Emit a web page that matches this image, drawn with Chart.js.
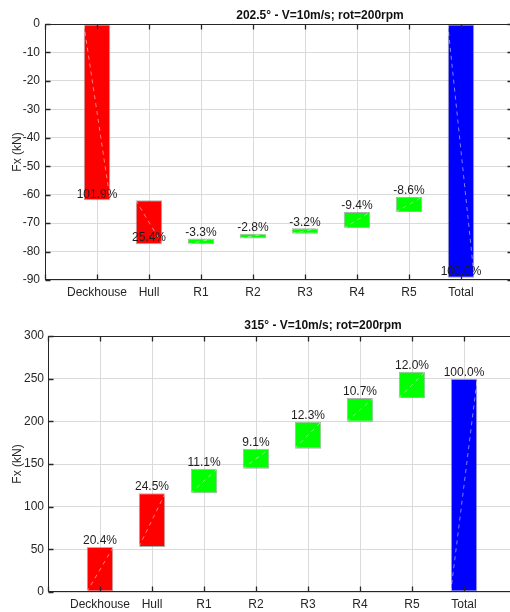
<!DOCTYPE html>
<html>
<head>
<meta charset="utf-8">
<script src="https://cdn.jsdelivr.net/npm/chart.js@4.4.1/dist/chart.umd.min.js"></script>
<style>
  html, body { margin: 0; padding: 0; background: #fff; overflow: hidden; width: 510px; height: 612px; }
  .panel { position: absolute; left: 0; }
  canvas { display: block; }
</style>
</head>
<body>
<div class="panel" style="top:0"><canvas id="chartA" width="640" height="306"></canvas></div>
<div class="panel" style="top:306px"><canvas id="chartB" width="646" height="306"></canvas></div>
<script>
// Force contributions per component (kN): each bar runs from start to end
const categories = ['Deckhouse', 'Hull', 'R1', 'R2', 'R3', 'R4', 'R5', 'Total'];

// 202.5° heading
const titleA = '202.5\u00B0 - V=10m/s; rot=200rpm';
const startA = [0, -62.0, -77.4, -75.4, -73.7, -71.8, -66.1, 0];
const endA   = [-62.0, -77.4, -75.4, -73.7, -71.8, -66.1, -60.8, -89.2];
const shareA = ['101.9%', '25.4%', '-3.3%', '-2.8%', '-3.2%', '-9.4%', '-8.6%', '100.0%'];
const yMinA = -90, yMaxA = 0, yStepA = 10;

// 315° heading
const titleB = '315\u00B0 - V=10m/s; rot=200rpm';
const startB = [0, 52.6, 115.8, 144.4, 167.9, 199.6, 227.2, 0];
const endB   = [52.6, 115.8, 144.4, 167.9, 199.6, 227.2, 258.2, 250.0];
const shareB = ['20.4%', '24.5%', '11.1%', '9.1%', '12.3%', '10.7%', '12.0%', '100.0%'];
const yMinB = 0, yMaxB = 300, yStepB = 50;

const yAxisTitle = 'Fx (kN)';

const FONT = '"Liberation Sans", Arial, Helvetica, sans-serif';
const INK = '#262626';
const GRID = '#dadada';

function barColor(name) {
  if (name === 'Total') return '#0000ff';
  if (name === 'Deckhouse' || name === 'Hull') return '#ff0000';
  return '#00ff00';
}

// Draws the axes box with inward ticks, the diagonal guide through each bar
// and the percentage share above each bar's end value.
function waterfallDecor(start, end, shares) {
  return {
    id: 'waterfallDecor',
    afterDatasetsDraw(chart) {
      const { ctx, chartArea: a, scales: { x, y } } = chart;
      const meta = chart.getDatasetMeta(0);
      ctx.save();

      // dashed diagonal inside each bar
      ctx.strokeStyle = 'rgba(255,255,255,0.5)';
      ctx.lineWidth = 1;
      ctx.setLineDash([4, 4]);
      meta.data.forEach((bar, i) => {
        const half = bar.width / 2;
        ctx.beginPath();
        ctx.moveTo(bar.x - half, y.getPixelForValue(start[i]));
        ctx.lineTo(bar.x + half, y.getPixelForValue(end[i]));
        ctx.stroke();
      });
      ctx.setLineDash([]);

      // axes box
      const L = Math.round(a.left) + 0.5, R = Math.round(a.right) - 0.5;
      const T = Math.round(a.top) + 0.5, B = Math.round(a.bottom) - 0.5;
      ctx.strokeStyle = INK;
      ctx.lineWidth = 1;
      ctx.strokeRect(L, T, R - L, B - T);

      // inward tick marks
      ctx.lineWidth = 1.3;
      ctx.beginPath();
      x.ticks.forEach((t, i) => {
        const px = Math.round(x.getPixelForTick(i)) + 0.5;
        ctx.moveTo(px, B); ctx.lineTo(px, B - 5);
        ctx.moveTo(px, T); ctx.lineTo(px, T + 5);
      });
      y.ticks.forEach((t, i) => {
        const py = Math.round(y.getPixelForTick(i)) + 0.5;
        ctx.moveTo(L, py); ctx.lineTo(L + 5, py);
        ctx.moveTo(R, py); ctx.lineTo(R - 5, py);
      });
      ctx.stroke();

      // share labels at the end value of each bar
      ctx.font = '12px ' + FONT;
      ctx.fillStyle = '#1e1e1e';
      ctx.textAlign = 'center';
      ctx.textBaseline = 'bottom';
      meta.data.forEach((bar, i) => {
        ctx.fillText(shares[i], bar.x, y.getPixelForValue(end[i]));
      });
      ctx.restore();
    }
  };
}

function buildChart(canvasId, title, start, end, shares, yMin, yMax, yStep, box) {
  const colors = categories.map(barColor);
  // categories sit at positions 1..n, leaving one slot of margin each side
  const points = categories.map((c, i) => ({ x: i + 1, y: [start[i], end[i]] }));
  const canvas = document.getElementById(canvasId);
  return new Chart(canvas, {
    type: 'bar',
    data: {
      datasets: [{
        data: points,
        backgroundColor: colors,
        borderColor: 'rgba(110,110,110,0.55)',
        borderWidth: 1,
        borderSkipped: false,
        categoryPercentage: 1,
        barPercentage: 0.51
      }]
    },
    options: {
      responsive: false,
      animation: false,
      events: [],
      layout: { padding: 0 },
      plugins: {
        legend: { display: false },
        tooltip: { enabled: false },
        title: {
          display: true,
          text: title,
          color: '#111',
          font: { family: FONT, size: 12, weight: 'bold', lineHeight: 1.2 },
          padding: { top: box.titleTop, bottom: box.titleBottom }
        }
      },
      scales: {
        x: {
          type: 'linear',
          min: 0,
          max: categories.length + 1,
          offset: false,
          grid: { color: GRID, drawTicks: false, offset: false },
          border: { display: false },
          ticks: {
            stepSize: 1,
            color: INK,
            font: { family: FONT, size: 12 },
            padding: box.xPad,
            maxRotation: 0,
            autoSkip: false,
            callback: v => categories[v - 1] || ''
          },
          afterFit: s => { s.height = box.xHeight; }
        },
        y: {
          min: yMin,
          max: yMax,
          grid: { color: GRID, drawTicks: false },
          border: { display: false },
          ticks: { stepSize: yStep, color: INK, font: { family: FONT, size: 12 }, padding: box.yPad },
          title: {
            display: true,
            text: yAxisTitle,
            color: INK,
            font: { family: FONT, size: 12 },
            padding: { top: box.yTitlePad, bottom: 0 }
          },
          afterFit: s => { s.width = box.left; }
        },
        y2: {
          position: 'right',
          display: true,
          grid: { drawOnChartArea: false, drawTicks: false },
          border: { display: false },
          ticks: { display: false },
          afterFit: s => { s.width = box.rightSpace; }
        }
      }
    },
    plugins: [waterfallDecor(start, end, shares)]
  });
}

buildChart('chartA', titleA, startA, endA, shareA, yMinA, yMaxA, yStepA,
  { titleTop: 8, titleBottom: 1.6, xPad: 5, xHeight: 26, yPad: 5, yTitlePad: 10, left: 45, rightSpace: 127 });
buildChart('chartB', titleB, startB, endB, shareB, yMinB, yMaxB, yStepB,
  { titleTop: 12.8, titleBottom: 2.8, xPad: 5, xHeight: 20, yPad: 4, yTitlePad: 10, left: 48, rightSpace: 130 });
</script>
</body>
</html>
